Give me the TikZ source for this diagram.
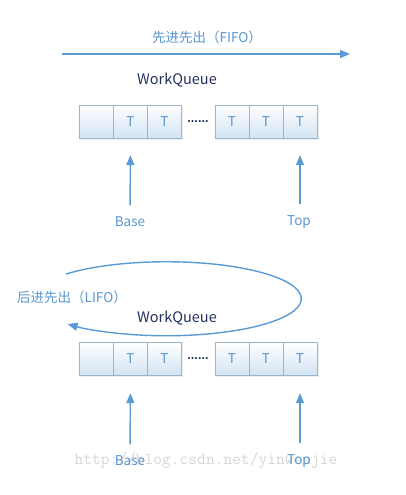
\documentclass[tikz,border=0pt]{standalone}
\usepackage{fontspec}
\setmainfont{Noto Sans CJK SC}
\usetikzlibrary{arrows.meta,shadows}

\definecolor{arrowblue}{HTML}{5B9BD5}
\definecolor{labelblue}{HTML}{5A96CF}
\definecolor{queuenavy}{HTML}{22305E}
\definecolor{cellline}{HTML}{9BB5CC}
\definecolor{cellfill}{HTML}{D3E4F3}

\tikzset{
  cell/.style={draw=cellline, minimum width=34pt, minimum height=33pt, inner sep=0pt,
    top color=white, bottom color=cellfill, text=labelblue,
    drop shadow={shadow xshift=1.5pt, shadow yshift=-1.5pt, fill=black!12},
    font=\fontsize{13.5}{15}\selectfont},
  pointer/.style={draw=arrowblue, line width=1.4pt, -{Triangle[length=10pt,width=8pt]}},
  tag/.style={text=labelblue, font=\fontsize{13.5}{15}\selectfont},
  title/.style={text=queuenavy, font=\fontsize{14.5}{17}\selectfont},
}

\begin{document}
\begin{tikzpicture}[x=1pt, y=-1pt]
      \useasboundingbox (0,0) rectangle (406,495);

      % FIFO
      \node[tag] (fifo) at (207, 37) {先进先出（FIFO）};
      \coordinate (fifoTail) at (62, 54);
      \coordinate (fifoHead) at (350, 54);
      \draw[pointer] (fifoTail) -- (fifoHead);
      \node[title] (queueA) at (177, 80) {WorkQueue};

      \node[cell] (a1) at (96.5, 121.5) {};
      \node[cell] (a2) at (130.5, 121.5) {T};
      \node[cell] (a3) at (164.5, 121.5) {T};
      \node[text=queuenavy, font=\bfseries] (dotsA) at (198, 122) {......};
      \node[cell] (a4) at (232, 121.5) {T};
      \node[cell] (a5) at (266, 121.5) {T};
      \node[cell] (a6) at (300, 121.5) {T};

      \node[tag] (baseA) at (130, 222) {Base};
      \node[tag] (topA) at (299, 222) {Top};
      \draw[pointer, shorten <=8pt, shorten >=17pt] (baseA.north) -- (a2.south);
      \draw[pointer, shorten <=8pt, shorten >=17pt] (topA.north -| a6) -- (a6.south);

      % LIFO
      \coordinate (lifoStart) at (66, 274);
      \draw[pointer] (lifoStart) arc[start angle=138, end angle=-137, x radius=135pt, y radius=37pt];
      \node[tag] (lifo) at (72, 297) {后进先出（LIFO）};
      \node[title] (queueB) at (177, 318) {WorkQueue};

      \node[cell] (b1) at (96.5, 358.5) {};
      \node[cell] (b2) at (130.5, 358.5) {T};
      \node[cell] (b3) at (164.5, 358.5) {T};
      \node[text=queuenavy, font=\bfseries] (dotsB) at (198, 359) {......};
      \node[cell] (b4) at (232, 358.5) {T};
      \node[cell] (b5) at (266, 358.5) {T};
      \node[cell] (b6) at (300, 358.5) {T};

      \node[text=black!16, font=\ttfamily\fontsize{17}{19}\selectfont] (watermark) at (206, 461) {http://blog.csdn.net/yinwenjie};
      \node[tag] (baseB) at (130, 461) {Base};
      \node[tag] (topB) at (299, 461) {Top};
      \draw[pointer, shorten <=8pt, shorten >=18pt] (baseB.north) -- (b2.south);
      \draw[pointer, shorten <=8pt, shorten >=18pt] (topB.north -| b6) -- (b6.south);
\end{tikzpicture}
\end{document}
